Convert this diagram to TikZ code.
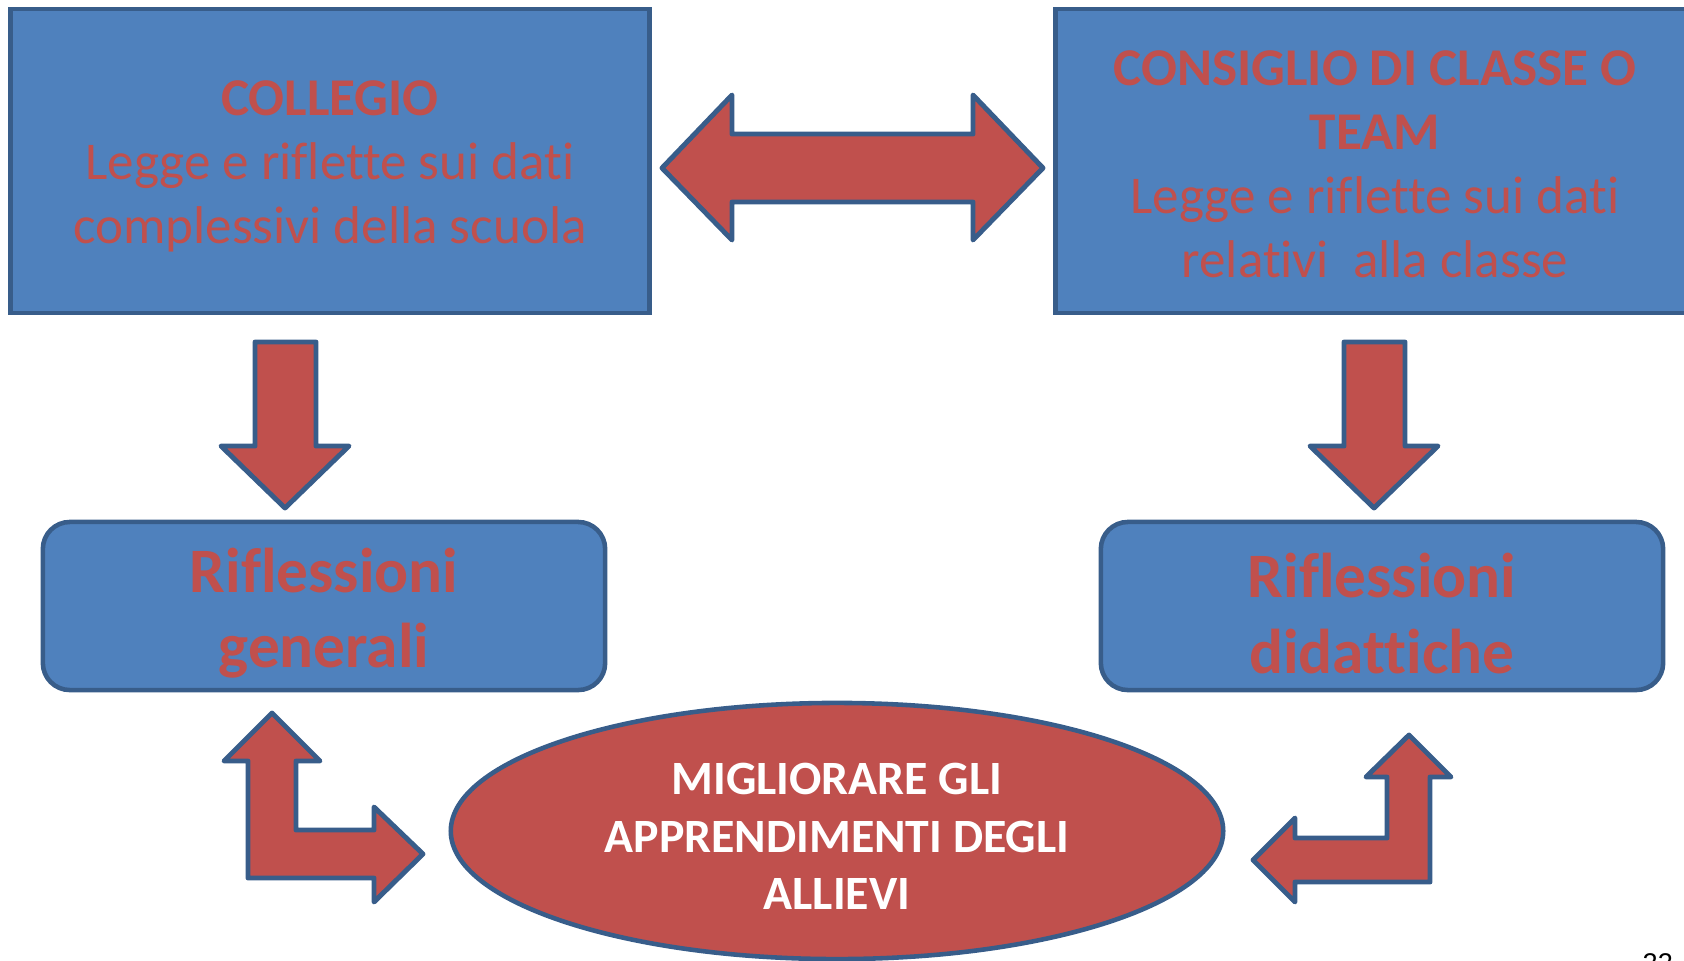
\documentclass[tikz,border=0pt]{standalone}
\usepackage{fontspec}
\setmainfont{Carlito}[Ligatures={NoCommon}]
\newfontfamily\numfont{Liberation Sans}
\usepackage{tikz}
\usetikzlibrary{shapes.geometric}
\usetikzlibrary{positioning}
\definecolor{boxblue}{HTML}{4F81BD}
\definecolor{boxline}{HTML}{385D8A}
\definecolor{arrowred}{HTML}{C0504D}
\tikzset{
	databox/.style={draw=boxline, fill=boxblue, line width=1.3pt, inner sep=0pt, outer sep=0pt,
		minimum width=6.39cm, minimum height=3.04cm},
	datatext/.style={align=center, text=arrowred, inner sep=0pt, font=\fontsize{15.1}{18.2}\selectfont},
	reflbox/.style={draw=boxline, fill=boxblue, line width=1.3pt, rounded corners=0.27cm, inner sep=0pt,
		minimum width=5.62cm, minimum height=1.68cm},
	refltext/.style={align=center, text=arrowred, inner sep=0pt, font=\bfseries\fontsize{18}{21.4}\selectfont},
	goal/.style={ellipse, draw=boxline, fill=arrowred, line width=1.3pt, inner sep=0pt,
		minimum width=7.72cm, minimum height=2.56cm},
	goaltext/.style={align=center, text=white, inner sep=0pt, font=\bfseries\fontsize{13.6}{16.3}\selectfont},
	blockarrow/.style={draw=boxline, fill=arrowred, line width=1.4pt, line join=round}
}
\begin{document}
\begin{tikzpicture}[x=0.01cm, y=-0.01cm]
		\useasboundingbox (0,0) rectangle (1684,960);
		\node[databox] (collegio) at (330,161) {};
		\node[datatext] (collegiotext) at ([yshift=-0.05cm]collegio.center) {\textbf{COLLEGIO}\\Legge e riflette sui dati\\complessivi della scuola};
		\node[databox] (consiglio) at (1375,161) {};
		\node[datatext] (consigliotext) at ([yshift=-0.03cm]consiglio.center) {\textbf{CONSIGLIO DI CLASSE O}\\\textbf{TEAM}\\Legge e riflette sui dati\\relativi\ \ alla classe};
		\node[reflbox] (generali) at (324,606) {};
		\node[refltext] (generalitext) at ([yshift=-0.075cm]generali.center) {Riflessioni\\generali};
		\node[reflbox] (didattiche) at (1382,606) {};
		\node[refltext] (didattichetext) at ([yshift=-0.075cm]didattiche.center) {Riflessioni\\didattiche};
		\node[goal] (allievi) at (837,831) {};
		\node[goaltext] (allievitext) at ([yshift=-0.055cm]allievi.center) {MIGLIORARE GLI\\APPRENDIMENTI DEGLI\\ALLIEVI};
		\draw[blockarrow] (662,168) -- (732,95) -- (732,134) -- (973,134) -- (973,95) -- (1043,168)
			-- (973,240) -- (973,202) -- (732,202) -- (732,240) -- cycle;
		\draw[blockarrow] (255,342) -- (316,342) -- (316,446) -- (349,446) -- (285,508) -- (221,446) -- (255,446) -- cycle;
		\draw[blockarrow] (1344,342) -- (1405,342) -- (1405,446) -- (1438,446) -- (1374,508) -- (1310,446) -- (1344,446) -- cycle;
		\draw[blockarrow] (272,713) -- (320,761) -- (296,761) -- (296,830) -- (374,830) -- (374,807) -- (423,854)
			-- (374,902) -- (374,878) -- (248,878) -- (248,761) -- (224,761) -- cycle;
		\draw[blockarrow] (1409,735) -- (1451,777) -- (1430,777) -- (1430,882) -- (1295,882) -- (1295,902) -- (1253,860)
			-- (1295,818) -- (1295,838) -- (1387,838) -- (1387,777) -- (1366,777) -- cycle;
		\node[anchor=base west, inner sep=0pt, font=\numfont\fontsize{7.7}{9}\selectfont] (pagenum) at (1642,972) {22};
	\end{tikzpicture}
\end{document}
